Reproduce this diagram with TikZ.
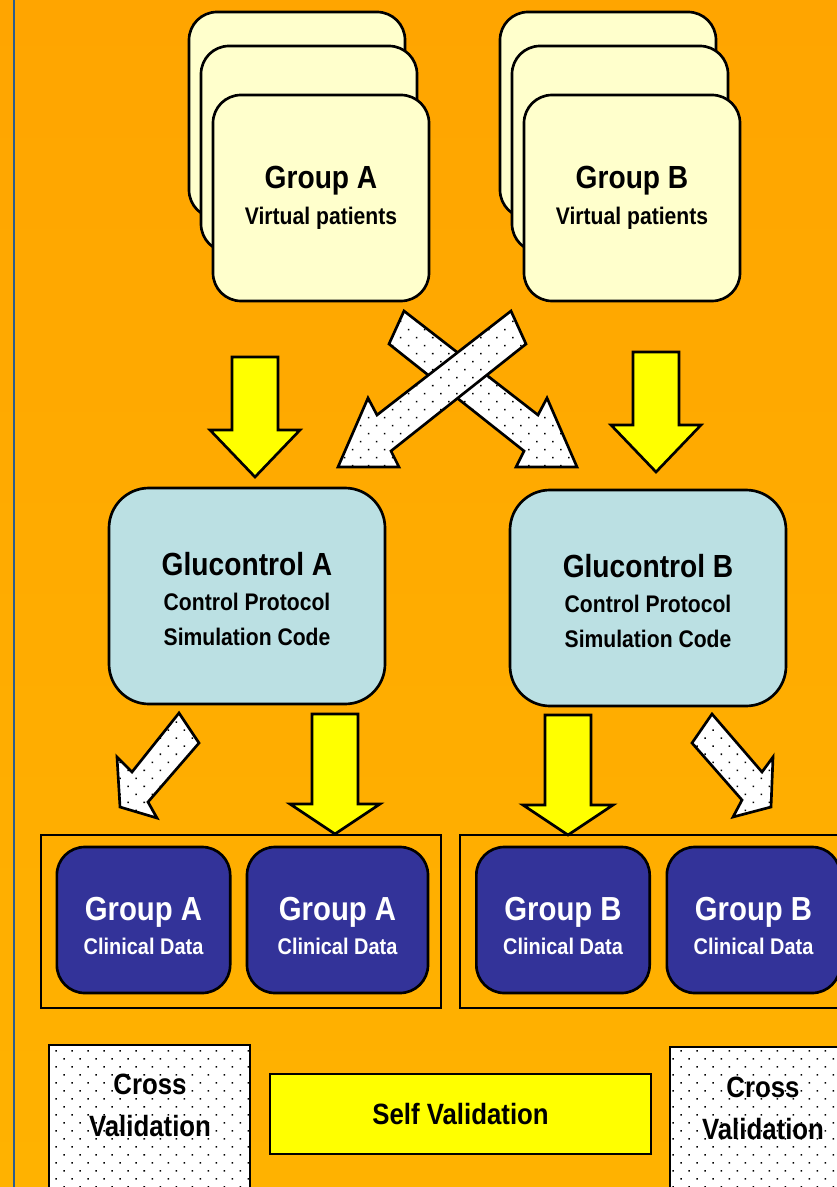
\documentclass[tikz,border=0pt]{standalone}
\usepackage{fontspec}
\setmainfont{Liberation Sans}[FakeStretch=0.88]
\usetikzlibrary{patterns.meta}

\definecolor{bgtop}{RGB}{255,165,0}
\definecolor{bgbot}{RGB}{255,178,0}
\definecolor{cardyellow}{RGB}{255,255,204}
\definecolor{glublue}{RGB}{187,224,227}
\definecolor{clinblue}{RGB}{51,51,153}
\definecolor{sideline}{RGB}{44,94,140}
\definecolor{brightyellow}{RGB}{255,255,0}

\tikzset{
  card/.style={draw, line width=2pt, fill=cardyellow, rounded corners=21pt,
    minimum width=162pt, minimum height=154.5pt, align=center,
    font=\fontsize{18}{27}\selectfont\bfseries},
  glu/.style={draw, line width=2pt, fill=glublue, rounded corners=30pt,
    minimum width=207pt, minimum height=162pt, align=center,
    font=\fontsize{18}{26}\selectfont\bfseries},
  clin/.style={draw, line width=2pt, fill=clinblue, text=white, rounded corners=21pt,
    minimum width=130pt, minimum height=109.5pt, align=center,
    font=\fontsize{17}{26}\selectfont\bfseries},
  holder/.style={draw, line width=1.6pt, minimum width=300pt, minimum height=129.75pt},
  dotfill/.style={draw, line width=2pt, preaction={fill=white},
    pattern={Dots[distance=8.5pt, radius=0.8pt, angle=45]}},
  yellowarrow/.style={draw, line width=2pt, fill=brightyellow, line join=miter},
  crosstext/.style={align=center, font=\fontsize{22}{31.5}\selectfont\bfseries},
  selfbox/.style={draw, line width=2.2pt, fill=brightyellow, minimum width=285.75pt,
    minimum height=60pt, font=\fontsize{22}{26}\selectfont\bfseries}
}

% block arrow pointing down: centre x, top, head base, tip
\newcommand{\downblock}[4]{%
  \draw[yellowarrow] (#1-23,#2) -- (#1+23,#2) -- (#1+23,#3) -- (#1+45,#3)
    -- (#1,#4) -- (#1-45,#3) -- (#1-23,#3) -- cycle;}

\begin{document}
\begin{tikzpicture}[x=0.75pt, y=-0.75pt]
    % page and background
    \useasboundingbox (0,0) rectangle (837,1187);
    \fill[top color=bgtop, bottom color=bgbot] (0,0) rectangle (837,1187);
    \draw[sideline, line width=1.2pt] (14,0) -- (14,1187);

    % virtual patient groups
    \node[card] (backA) at (297,115) {};
    \node[card] (midA) at (309,149) {};
    \node[card] (patA) at (321,198) {{\fontsize{24}{27}\selectfont Group A}\\Virtual patients};
    \node[card] (backB) at (608,115) {};
    \node[card] (midB) at (620,149) {};
    \node[card] (patB) at (632,198) {{\fontsize{24}{27}\selectfont Group B}\\Virtual patients};

    % patients to control code
    \downblock{255}{357}{430}{477}
    \downblock{656}{352}{425}{472}
    \draw[dotfill] (404,311) -- (538,415) -- (547,398) -- (577,467) -- (516,467)
        -- (524,451) -- (389,344) -- cycle;
    \draw[dotfill] (511,311) -- (377,415) -- (368,398) -- (338,467) -- (399,467)
        -- (391,451) -- (526,344) -- cycle;

    % control code
    \node[glu] (gluA) at (247,596) {\rule{0pt}{22pt}{\fontsize{24}{26}\selectfont Glucontrol A}\\Control Protocol\\Simulation Code};
    \node[glu] (gluB) at (648,598) {\rule{0pt}{22pt}{\fontsize{24}{26}\selectfont Glucontrol B}\\Control Protocol\\Simulation Code};

    % control code to clinical data
    \draw[dotfill] (179,713) -- (132,772) -- (117,757) -- (120,807) -- (157,818)
        -- (148,802) -- (199,743) -- cycle;
    \downblock{335}{714}{804}{834}
    \downblock{568}{715}{805}{835}
    \draw[dotfill] (712,714) -- (762,772) -- (773,757) -- (771,807) -- (733,817)
        -- (742,800) -- (692,743) -- cycle;

    % clinical data
    \node[holder] (holdA) at (241,921.5) {};
    \node[holder] (holdB) at (660,921.5) {};
    \node[clin] (clinA1) at (143.5,920) {\rule{0pt}{26.5pt}{\fontsize{25}{26}\selectfont Group A}\\Clinical Data};
    \node[clin, minimum width=135.75pt] (clinA2) at (337.5,920) {\rule{0pt}{26.5pt}{\fontsize{25}{26}\selectfont Group A}\\Clinical Data};
    \node[clin] (clinB1) at (563,920) {\rule{0pt}{26.5pt}{\fontsize{25}{26}\selectfont Group B}\\Clinical Data};
    \node[clin] (clinB2) at (753.5,920) {\rule{0pt}{26.5pt}{\fontsize{25}{26}\selectfont Group B}\\Clinical Data};

    % validation
    \draw[dotfill] (49,1045) rectangle (250,1230);
    \node[crosstext] (crossA) at (150,1105) {Cross\\Validation};
    \node[selfbox] (self) at (460.5,1114) {Self Validation};
    \draw[dotfill] (670,1047) rectangle (856,1230);
    \node[crosstext] (crossB) at (763,1108) {Cross\\Validation};
\end{tikzpicture}
\end{document}
